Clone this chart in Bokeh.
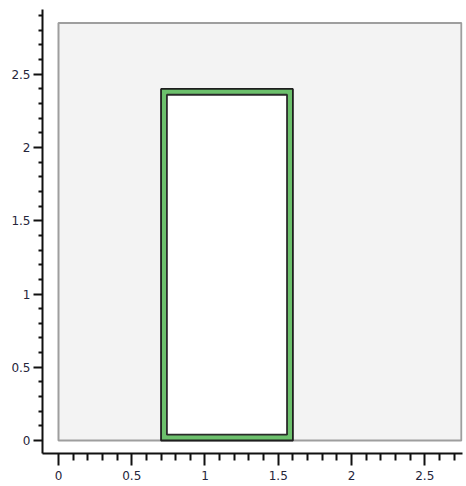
from bokeh.plotting import figure
from bokeh.embed import file_html
from bokeh.resources import INLINE
from bokeh.models import FixedTicker, NumeralTickFormatter, Range1d

# --- data ---
domain_left = [0.0]
domain_right = [2.75]
domain_bottom = [0.0]
domain_top = [2.85]

outer_left = [0.70]
outer_right = [1.60]
outer_bottom = [0.00]
outer_top = [2.40]

inner_left = [0.74]
inner_right = [1.56]
inner_bottom = [0.04]
inner_top = [2.36]

x_major = [0, 0.5, 1, 1.5, 2, 2.5]
x_minor = [0.1, 0.2, 0.3, 0.4, 0.6, 0.7, 0.8, 0.9, 1.1, 1.2, 1.3, 1.4,
           1.6, 1.7, 1.8, 1.9, 2.1, 2.2, 2.3, 2.4, 2.6, 2.7]
y_major = [0, 0.5, 1, 1.5, 2, 2.5]
y_minor = [0.1, 0.2, 0.3, 0.4, 0.6, 0.7, 0.8, 0.9, 1.1, 1.2, 1.3, 1.4,
           1.6, 1.7, 1.8, 1.9, 2.1, 2.2, 2.3, 2.4, 2.6, 2.7, 2.8, 2.9]

p = figure(width=466, height=486, output_backend="svg", toolbar_location=None,
           x_range=Range1d(-0.1092, 2.7577), y_range=Range1d(-0.0887, 2.942),
           min_border_left=42, min_border_right=4, min_border_top=9, min_border_bottom=33)

p.outline_line_color = None
p.background_fill_color = "white"
p.border_fill_color = "white"
p.xgrid.visible = False
p.ygrid.visible = False

p.quad(left=domain_left, right=domain_right, bottom=domain_bottom, top=domain_top,
       fill_color="#f3f3f3", line_color="#9e9e9e", line_width=2)
p.quad(left=outer_left, right=outer_right, bottom=outer_bottom, top=outer_top,
       fill_color="#6cc06c", line_color="#1e1e1e", line_width=1.8)
p.quad(left=inner_left, right=inner_right, bottom=inner_bottom, top=inner_top,
       fill_color="white", line_color="#2a2a2a", line_width=1.8)

label_font = "DejaVu Sans"
for ax in (p.xaxis[0], p.yaxis[0]):
    ax.formatter = NumeralTickFormatter(format="0.[0]")
    ax.axis_line_color = "#111111"
    ax.axis_line_width = 2
    ax.major_tick_line_color = "#111111"
    ax.minor_tick_line_color = "#111111"
    ax.major_tick_line_width = 2
    ax.minor_tick_line_width = 2
    ax.major_tick_in = 0
    ax.minor_tick_in = 0
    ax.major_label_text_font = label_font
    ax.major_label_text_font_size = "12px"
    ax.major_label_text_color = "#25253a"

p.xaxis[0].ticker = FixedTicker(ticks=x_major, minor_ticks=x_minor)
p.xaxis[0].major_tick_out = 12
p.xaxis[0].minor_tick_out = 7
p.xaxis[0].major_label_standoff = 5

p.yaxis[0].ticker = FixedTicker(ticks=y_major, minor_ticks=y_minor)
p.yaxis[0].major_tick_out = 9
p.yaxis[0].minor_tick_out = 4
p.yaxis[0].major_label_standoff = 3

open("out.html", "w").write(file_html(p, INLINE))
